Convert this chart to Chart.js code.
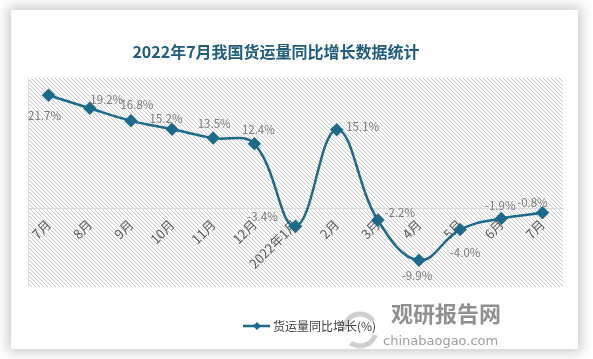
<!DOCTYPE html>
<html>
<head>
<meta charset="utf-8">
<script src="https://cdn.jsdelivr.net/npm/chart.js@4/dist/chart.umd.min.js"></script>
<style>
  html, body { margin: 0; padding: 0; background: #fff; }
  body { width: 593px; height: 359px; position: relative; overflow: hidden; }
  #card {
    position: absolute; left: 11px; top: 10px; width: 567px; height: 339px;
    background: #fff; box-shadow: 0 0 12px 3px rgba(0, 0, 0, 0.22);
  }
</style>
</head>
<body>
<div id="card"><canvas id="freightChart" width="567" height="339"></canvas></div>
<script>
const months = ['7月', '8月', '9月', '10月', '11月', '12月', '2022年1月', '2月', '3月', '4月', '5月', '6月', '7月'];
const growth = [21.7, 19.2, 16.8, 15.2, 13.5, 12.4, -3.4, 15.1, -2.2, -9.9, -4.0, -1.9, -0.8];
const yMin = -15;
const yMax = 25;
const seriesName = '货运量同比增长(%)';
const chartTitle = '2022年7月我国货运量同比增长数据统计';

// where each value label sits relative to its point (dx, dy)
const labelShift = [[-4, 20], [17, -9], [6, -16], [-6, -11], [1, -14], [4, -14], [-33, -10],
    [26, -3], [22, -7], [-2, 15], [5, 23], [-1, -13], [-10, -10]];

const lineColor = '#1d6a8a';
const cjk = '"Noto Sans CJK SC", "Noto Sans", sans-serif';

// diagonal hatch for the plot area
function makeHatch() {
    const c = document.createElement('canvas');
    c.width = 4;
    c.height = 4;
    const g = c.getContext('2d');
    g.fillStyle = '#c6c6c6';
    for (let i = 0; i < 4; i++) {
        g.fillRect(i, i, 1, 1);
    }
    return g.createPattern(c, 'repeat');
}

const backdrop = {
    id: 'backdrop',
    beforeDraw(chart) {
        const { ctx, chartArea: a } = chart;
        ctx.save();
        ctx.fillStyle = makeHatch();
        ctx.fillRect(a.left, a.top, a.right - a.left, a.bottom - a.top);
        ctx.strokeStyle = '#d9d9d9';
        ctx.lineWidth = 1;
        ctx.beginPath();
        ctx.moveTo(a.left + 0.5, a.top);
        ctx.lineTo(a.left + 0.5, a.bottom);
        ctx.stroke();
        ctx.restore();
    }
};

const extras = {
    id: 'extras',
    afterDatasetsDraw(chart) {
        const ctx = chart.ctx;
        const meta = chart.getDatasetMeta(0);
        ctx.save();
        ctx.font = '11.5px ' + cjk;
        ctx.fillStyle = '#7a7a7a';
        ctx.textAlign = 'center';
        ctx.textBaseline = 'middle';
        meta.data.forEach((pt, i) => {
            const s = labelShift[i];
            ctx.fillText(growth[i].toFixed(1) + '%', pt.x + s[0], pt.y + s[1]);
        });
        ctx.restore();
    },
    afterDraw(chart) {
        const ctx = chart.ctx;
        ctx.save();
        // title
        ctx.font = 'bold 16px ' + cjk;
        ctx.fillStyle = '#1f5d7c';
        ctx.textAlign = 'center';
        ctx.textBaseline = 'middle';
        ctx.fillText(chartTitle, 265, 42);

        // watermark
        ctx.strokeStyle = 'rgba(160,160,160,0.5)';
        ctx.lineWidth = 5;
        ctx.beginPath();
        ctx.arc(349, 320, 16, Math.PI * 1.0, Math.PI * 1.8);
        ctx.stroke();
        ctx.beginPath();
        ctx.arc(349, 320, 16, Math.PI * 0.1, Math.PI * 0.7);
        ctx.stroke();
        ctx.fillStyle = 'rgba(125,125,125,0.85)';
        ctx.font = 'bold 22px ' + cjk;
        ctx.textAlign = 'left';
        ctx.fillText('观研报告网', 380, 304);
        ctx.fillStyle = 'rgba(140,140,140,0.85)';
        ctx.font = '13px "DejaVu Sans", sans-serif';
        ctx.fillText('chinabaogao.com', 372, 332);

        // legend
        ctx.strokeStyle = lineColor;
        ctx.lineWidth = 2.5;
        ctx.beginPath();
        ctx.moveTo(232, 316);
        ctx.lineTo(259, 316);
        ctx.stroke();
        ctx.fillStyle = lineColor;
        ctx.beginPath();
        ctx.moveTo(246, 312);
        ctx.lineTo(250, 316);
        ctx.lineTo(246, 320);
        ctx.lineTo(242, 316);
        ctx.closePath();
        ctx.fill();
        ctx.fillStyle = '#404040';
        ctx.font = '12px ' + cjk;
        ctx.fillText(seriesName, 262, 316);
        ctx.restore();
    }
};

new Chart(document.getElementById('freightChart'), {
    type: 'line',
    data: {
        labels: months,
        datasets: [{
            label: seriesName,
            data: growth,
            borderColor: lineColor,
            backgroundColor: lineColor,
            borderWidth: 2.5,
            tension: 0.4,
            pointStyle: 'rectRot',
            pointRadius: 5,
            pointHoverRadius: 5
        }]
    },
    options: {
        responsive: false,
        animation: false,
        layout: { padding: { left: 17, right: 15, top: 68, bottom: 62 } },
        plugins: {
            legend: { display: false },
            title: { display: false },
            tooltip: { enabled: false }
        },
        scales: {
            x: {
                position: { y: 0 },
                offset: true,
                grid: { display: false, drawTicks: false },
                border: { display: true, color: '#d9d9d9', width: 1 },
                ticks: {
                    autoSkip: false,
                    minRotation: 45,
                    maxRotation: 45,
                    padding: 8,
                    color: '#595959',
                    font: { size: 13, family: cjk }
                }
            },
            y: {
                display: false,
                min: yMin,
                max: yMax
            }
        }
    },
    plugins: [backdrop, extras]
});
</script>
</body>
</html>
